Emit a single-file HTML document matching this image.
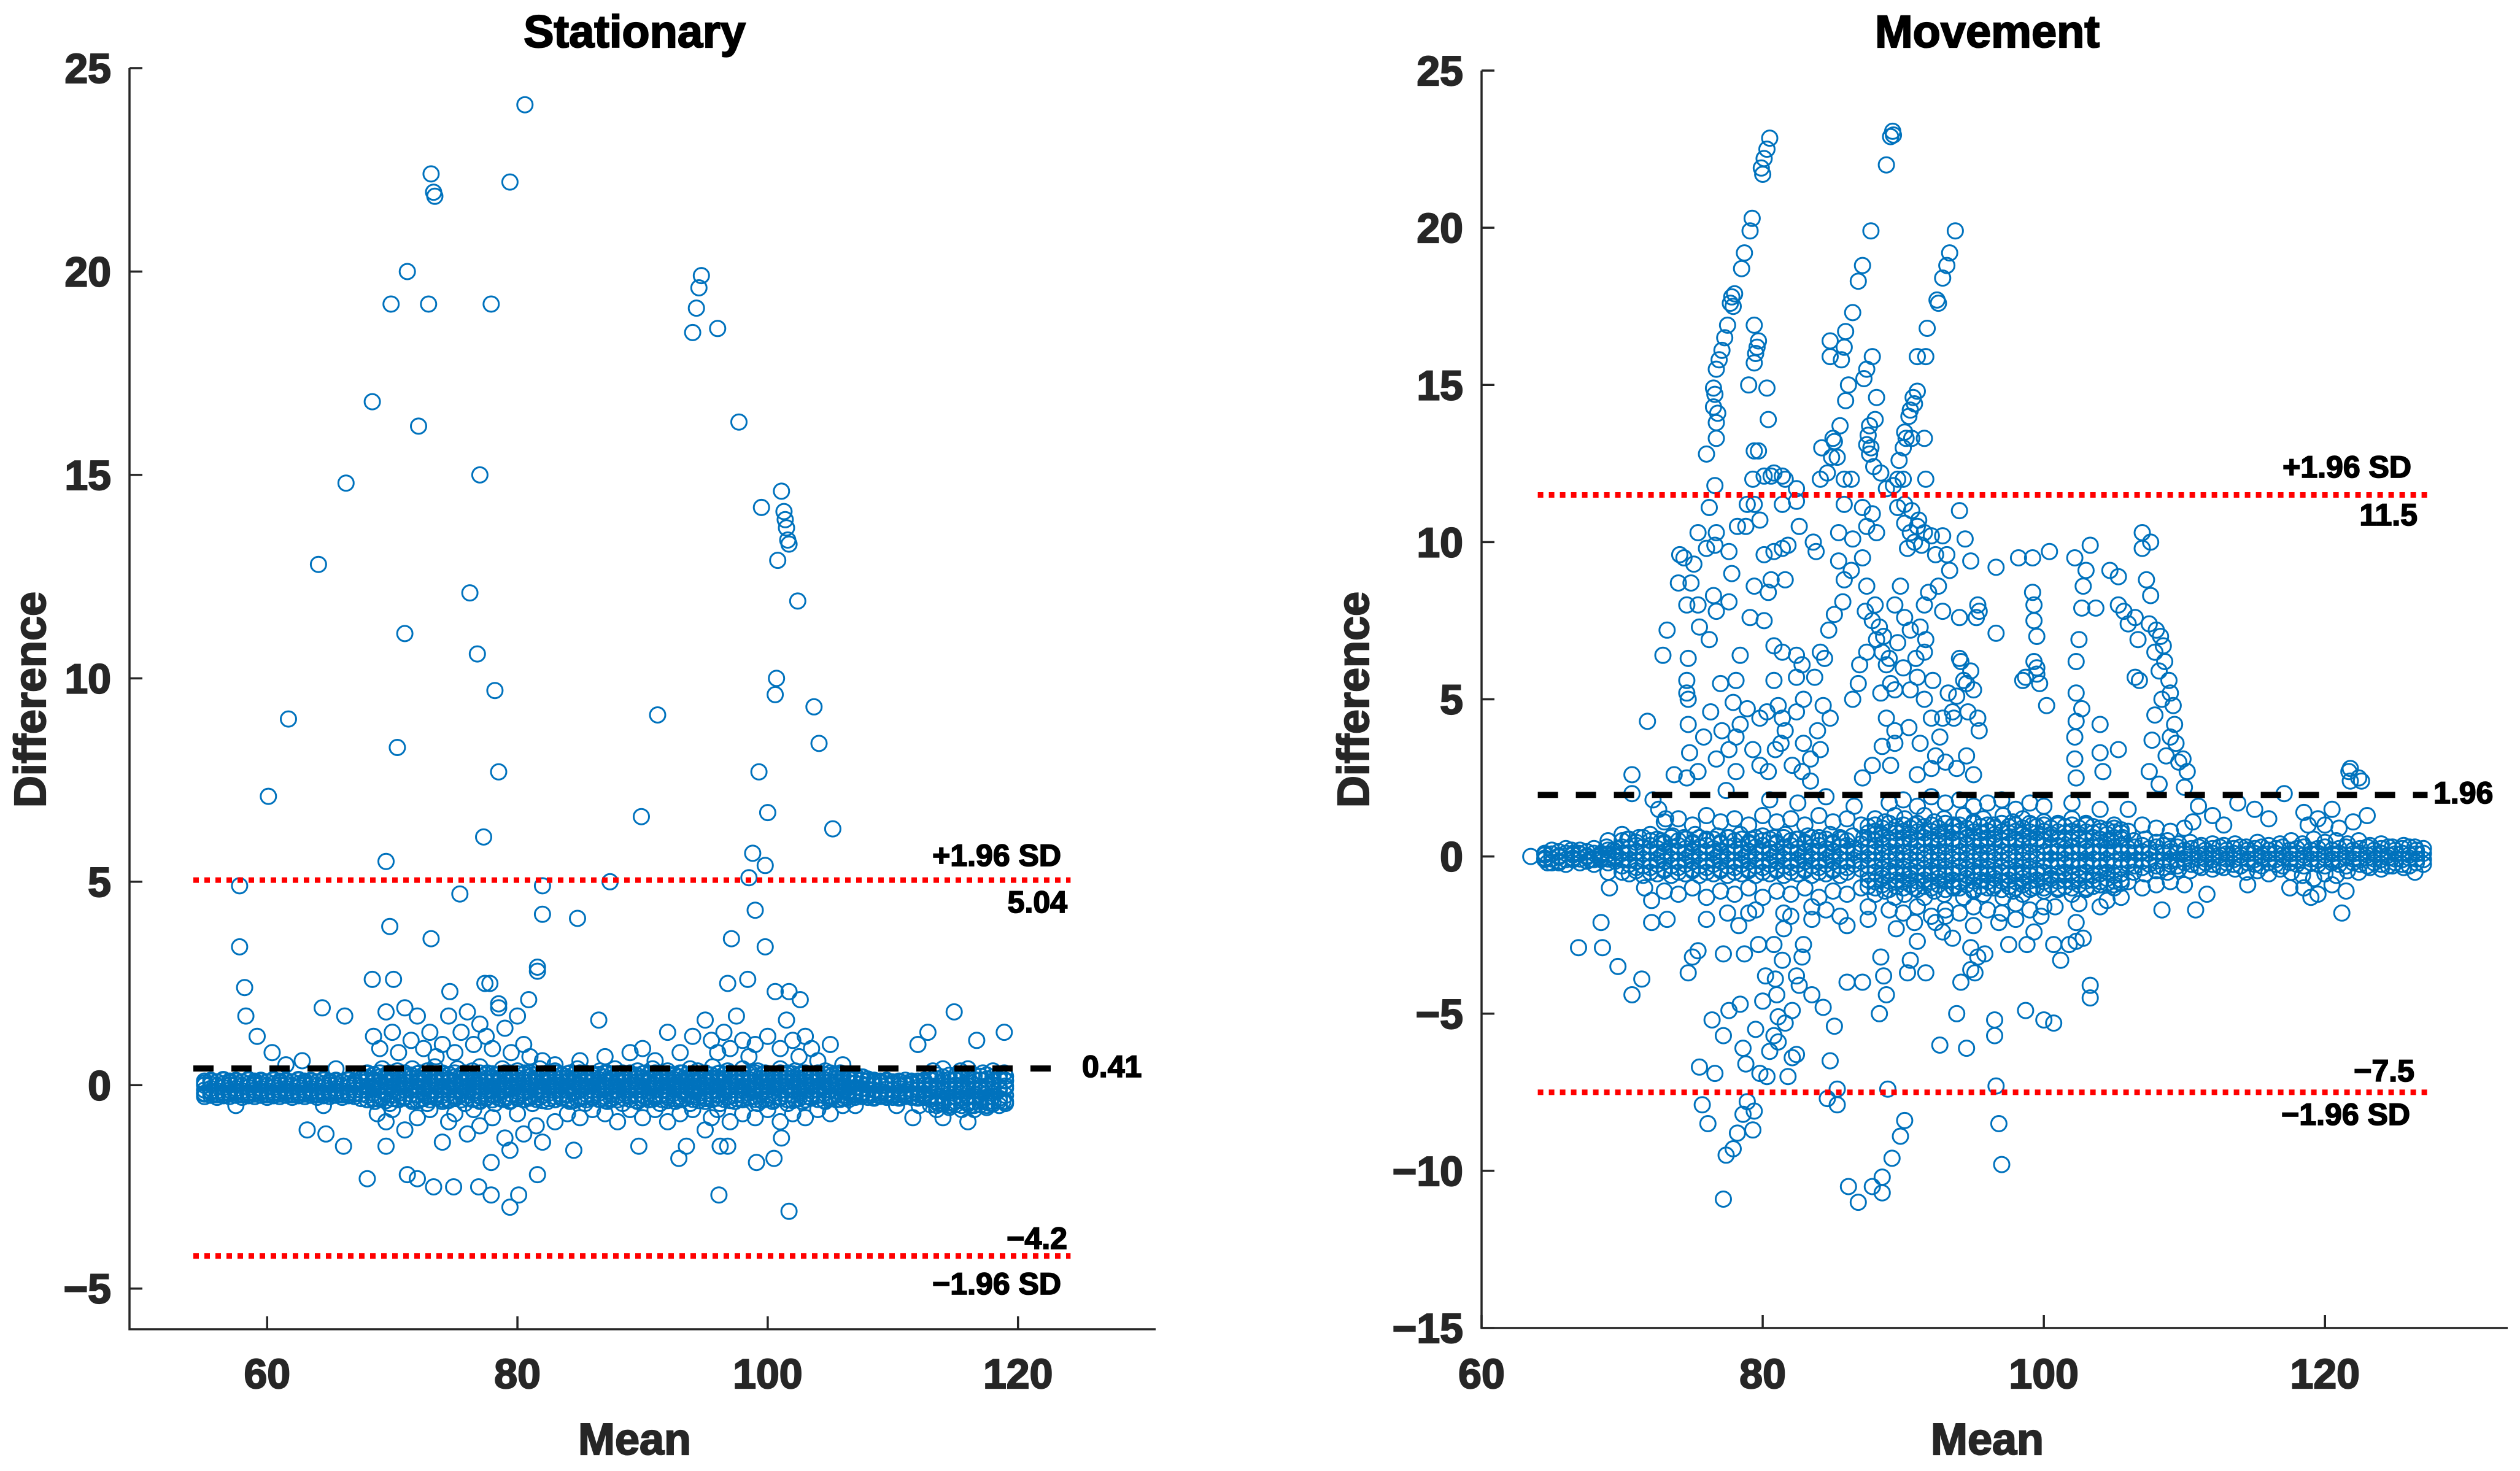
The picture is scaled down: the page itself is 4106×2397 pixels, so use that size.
<!DOCTYPE html>
<html>
<head>
<meta charset="utf-8">
<style>
html,body{margin:0;padding:0;background:#fff;}
svg{display:block;}
text{font-family:"Liberation Sans",Arial,sans-serif;font-weight:bold;}
</style>
</head>
<body>
<svg id="fig" width="4106" height="2397" viewBox="0 0 4106 2397" xmlns="http://www.w3.org/2000/svg">
<rect x="0" y="0" width="4106" height="2397" fill="#fff"/>
<g id="left"></g>
<g id="right"></g>
</svg>
<script>
// ---------- Stationary data ----------
const statLimits = [5.04, 0.41, -4.2];
const statXTicks = [60, 80, 100, 120];
const statYTicks = [-5, 0, 5, 10, 15, 20, 25];
const statDenseX = [55,55.5,56,56.5,57,57.5,58,58.5,59,59.5,60,60.5,61,61.5,62,62.5,63,63.5,64,64.5,
65,65.5,66,66.5,67,67.5,68,68.5,69,69.5,70,70.5,71,71.5,72,72.5,73,73.5,74,74.5,
75,75.5,76,76.5,77,77.5,78,78.5,79,79.5,80,80.5,81,81.5,82,82.5,83,83.5,84,84.5,
85,85.5,86,86.5,87,87.5,88,88.5,89,89.5,90,90.5,91,91.5,92,92.5,93,93.5,94,94.5,
95,95.5,96,96.5,97,97.5,98,98.5,99,99.5,100,100.5,101,101.5,102,102.5,103,103.5,104,104.5,
105,105.5,106,106.5,107,107.5,108,108.5,109,109.5,110,110.5,111,111.5,112,112.5,113,113.5,114,114.5,
115,115.5,116,116.5,117,117.5,118,118.5,119];
const statDenseA = [0.05,0.1,0.08,0.12,0.06,0.1,0.08,0.12,0.05,0.1,0.08,0.12,0.06,0.1,0.08,0.12,0.05,0.1,0.08,0.12,
0.06,0.1,0.08,0.12,0.05,0.15,0.18,0.14,0.2,0.16,0.18,0.14,0.2,0.16,0.18,0.14,0.2,0.16,0.18,0.14,
0.2,0.16,0.18,0.14,0.2,0.16,0.18,0.14,0.2,0.16,0.18,0.14,0.2,0.16,0.18,0.14,0.2,0.16,0.18,0.14,
0.2,0.16,0.18,0.14,0.2,0.16,0.18,0.14,0.2,0.16,0.18,0.14,0.2,0.16,0.18,0.14,0.2,0.16,0.18,0.14,
0.2,0.16,0.18,0.14,0.2,0.16,0.18,0.14,0.2,0.16,0.18,0.14,0.2,0.16,0.18,0.14,0.2,0.16,0.18,0.14,
0.2,0.16,0.18,0.14,0.15,0.12,0.1,0.08,0.05,0.1,0.02,0.08,0.05,0.1,0.05,0.1,0.12,0.15,0.1,0.14,
0.12,0.15,0.1,0.14,0.12,0.15,0.1,0.14,0.12];
const statDenseB = [-0.12,-0.08,-0.14,-0.06,-0.12,-0.08,-0.14,-0.06,-0.12,-0.08,-0.14,-0.06,-0.12,-0.08,-0.14,-0.06,-0.12,-0.08,-0.14,-0.06,
-0.12,-0.08,-0.14,-0.06,-0.12,-0.05,-0.02,-0.06,0,-0.04,-0.02,-0.06,0,-0.04,-0.02,-0.06,0,-0.04,-0.02,-0.06,
0,-0.04,-0.02,-0.06,0,-0.04,-0.02,-0.06,0,-0.04,-0.02,-0.06,0,-0.04,-0.02,-0.06,0,-0.04,-0.02,-0.06,
0,-0.04,-0.02,-0.06,0,-0.04,-0.02,-0.06,0,-0.04,-0.02,-0.06,0,-0.04,-0.02,-0.06,0,-0.04,-0.02,-0.06,
0,-0.04,-0.02,-0.06,0,-0.04,-0.02,-0.06,0,-0.04,-0.02,-0.06,0,-0.04,-0.02,-0.06,0,-0.04,-0.02,-0.06,
0,-0.04,-0.02,-0.06,-0.05,-0.08,-0.1,-0.12,-0.15,-0.1,-0.12,-0.08,-0.15,-0.1,-0.12,-0.1,-0.08,-0.1,-0.12,-0.08,
-0.1,-0.12,-0.08,-0.1,-0.12,-0.08,-0.1,-0.12,-0.08];
const statDenseC = [-0.2,-0.15,-0.22,-0.18,-0.2,-0.15,-0.22,-0.18,-0.2,-0.15,-0.22,-0.18,-0.2,-0.15,-0.22,-0.18,-0.2,-0.15,-0.22,-0.18,
-0.2,-0.15,-0.22,-0.18,-0.2,-0.22,-0.25,-0.2,-0.28,-0.22,-0.25,-0.2,-0.28,-0.22,-0.25,-0.2,-0.28,-0.22,-0.25,-0.2,
-0.28,-0.22,-0.25,-0.2,-0.28,-0.22,-0.25,-0.2,-0.28,-0.22,-0.25,-0.2,-0.28,-0.22,-0.25,-0.2,-0.28,-0.22,-0.25,-0.2,
-0.28,-0.22,-0.25,-0.2,-0.28,-0.22,-0.25,-0.2,-0.28,-0.22,-0.25,-0.2,-0.28,-0.22,-0.25,-0.2,-0.28,-0.22,-0.25,-0.2,
-0.28,-0.22,-0.25,-0.2,-0.28,-0.22,-0.25,-0.2,-0.28,-0.22,-0.25,-0.2,-0.28,-0.22,-0.25,-0.2,-0.28,-0.22,-0.25,-0.2,
-0.28,-0.22,-0.25,-0.2,-0.22,-0.2,-0.25,-0.3,-0.2,-0.28,-0.25,-0.3,-0.22,-0.28,-0.3,-0.25,-0.3,-0.28,-0.32,-0.3,
-0.28,-0.32,-0.3,-0.28,-0.32,-0.3,-0.28,-0.32,-0.25];
const statDenseD = [0,0.02,-0.02,0.03,0,0.02,-0.02,0.03,0,0.02,-0.02,0.03,0,0.02,-0.02,0.03,0,0.02,-0.02,0.03,
0,0.02,-0.02,0.03,0,0.08,0.1,0.06,0.09,0.07,0.1,0.06,0.09,0.07,0.1,0.06,0.09,0.07,0.1,0.06,
0.09,0.07,0.1,0.06,0.09,0.07,0.1,0.06,0.09,0.07,0.1,0.06,0.09,0.07,0.1,0.06,0.09,0.07,0.1,0.06,
0.09,0.07,0.1,0.06,0.09,0.07,0.1,0.06,0.09,0.07,0.1,0.06,0.09,0.07,0.1,0.06,0.09,0.07,0.1,0.06,
0.09,0.07,0.1,0.06,0.09,0.07,0.1,0.06,0.09,0.07,0.1,0.06,0.09,0.07,0.1,0.06,0.09,0.07,0.1,0.06,
0.09,0.07,0.1,0.06,0.05,0.03,0,0.02,-0.02,0,0.03,-0.02,0,0.02,-0.05,0,-0.02,-0.05,0,-0.03,
0,-0.05,-0.02,0,-0.05,-0.02,0,-0.05,-0.02];
const statDenseE = [-0.22,-0.18,-0.24,-0.2,-0.22,-0.18,-0.24,-0.2,-0.22,-0.18,-0.24,-0.2,-0.22,-0.18,-0.24,-0.2,-0.22,-0.18,-0.24,-0.2,
-0.22,-0.18,-0.24,-0.2,-0.22,-0.12,-0.14,-0.1,-0.13,-0.15,-0.11,-0.14,-0.12,-0.13,-0.1,-0.15,-0.12,-0.14,-0.11,-0.13,
-0.12,-0.14,-0.1,-0.13,-0.15,-0.11,-0.14,-0.12,-0.13,-0.1,-0.15,-0.12,-0.14,-0.11,-0.13,-0.12,-0.14,-0.1,-0.13,-0.15,
-0.11,-0.14,-0.12,-0.13,-0.1,-0.15,-0.12,-0.14,-0.11,-0.13,-0.12,-0.14,-0.1,-0.13,-0.15,-0.11,-0.14,-0.12,-0.13,-0.1,
-0.15,-0.12,-0.14,-0.11,-0.13,-0.12,-0.14,-0.1,-0.13,-0.15,-0.11,-0.14,-0.12,-0.13,-0.1,-0.15,-0.12,-0.14,-0.11,-0.13,
-0.12,-0.14,-0.1,-0.13,-0.15,-0.18,-0.2,-0.22,-0.25,-0.2,-0.22,-0.18,-0.25,-0.2,-0.22,-0.2,-0.35,-0.4,-0.38,-0.42,
-0.4,-0.38,-0.42,-0.4,-0.38,-0.42,-0.4,-0.38,-0.4];
const statDenseF = [0.1,0.12,0.08,0.14,0.1,0.12,0.08,0.14,0.1,0.12,0.08,0.14,0.1,0.12,0.08,0.14,0.1,0.12,0.08,0.14,
0.1,0.12,0.08,0.14,0.1,0.24,0.28,0.26,0.3,0.25,0.28,0.26,0.3,0.25,0.28,0.26,0.3,0.25,0.28,0.26,
0.3,0.25,0.28,0.26,0.3,0.25,0.28,0.26,0.3,0.25,0.28,0.26,0.3,0.25,0.28,0.26,0.3,0.25,0.28,0.26,
0.3,0.25,0.28,0.26,0.3,0.25,0.28,0.26,0.3,0.25,0.28,0.26,0.3,0.25,0.28,0.26,0.3,0.25,0.28,0.26,
0.3,0.25,0.28,0.26,0.3,0.25,0.28,0.26,0.3,0.25,0.28,0.26,0.3,0.25,0.28,0.26,0.3,0.25,0.28,0.26,
0.3,0.25,0.28,0.26,0.24,0.2,0.15,0.12,0.1,0.12,0.08,0.1,0.12,0.08,0.1,0.12,0.22,0.25,0.2,0.24,
0.22,0.25,0.2,0.24,0.22,0.25,0.2,0.24,0.22];
const statDenseG = [-0.28,-0.25,-0.3,-0.26,-0.28,-0.25,-0.3,-0.26,-0.28,-0.25,-0.3,-0.26,-0.28,-0.25,-0.3,-0.26,-0.28,-0.25,-0.3,-0.26,
-0.28,-0.25,-0.3,-0.26,-0.28,-0.33,-0.36,-0.32,-0.35,-0.38,-0.33,-0.36,-0.32,-0.35,-0.38,-0.33,-0.36,-0.32,-0.35,-0.38,
-0.33,-0.36,-0.32,-0.35,-0.38,-0.33,-0.36,-0.32,-0.35,-0.38,-0.33,-0.36,-0.32,-0.35,-0.38,-0.33,-0.36,-0.32,-0.35,-0.38,
-0.33,-0.36,-0.32,-0.35,-0.38,-0.33,-0.36,-0.32,-0.35,-0.38,-0.33,-0.36,-0.32,-0.35,-0.38,-0.33,-0.36,-0.32,-0.35,-0.38,
-0.33,-0.36,-0.32,-0.35,-0.38,-0.33,-0.36,-0.32,-0.35,-0.38,-0.33,-0.36,-0.32,-0.35,-0.38,-0.33,-0.36,-0.32,-0.35,-0.38,
-0.33,-0.36,-0.32,-0.35,-0.3,-0.28,-0.3,-0.32,-0.28,-0.3,-0.3,-0.32,-0.28,-0.3,-0.32,-0.3,-0.48,-0.5,-0.46,-0.5,
-0.48,-0.5,-0.46,-0.5,-0.48,-0.5,-0.46,-0.5,-0.45];
const statOutliers = [
[80.6,24.1],[73.1,22.4],[73.3,21.95],[73.4,21.85],[79.4,22.2],[71.2,20.0],[69.9,19.2],[72.9,19.2],[77.9,19.2],
[94.7,19.9],[94.5,19.6],[94.3,19.1],[94.0,18.5],[96.0,18.6],[68.4,16.8],[72.1,16.2],[97.7,16.3],[66.3,14.8],[77.0,15.0],
[64.1,12.8],[101.1,14.6],[99.5,14.2],[101.3,14.1],[101.4,13.9],[101.5,13.7],[101.6,13.4],[101.7,13.3],[100.8,12.9],[102.4,11.9],
[76.2,12.1],[71.0,11.1],[76.8,10.6],[78.2,9.7],[100.7,10.0],[100.6,9.6],[61.7,9.0],[91.2,9.1],[103.7,9.3],[70.4,8.3],[104.1,8.4],
[78.5,7.7],[99.3,7.7],[60.1,7.1],[100.0,6.7],[89.9,6.6],[105.2,6.3],[77.3,6.1],[69.5,5.5],[98.8,5.7],[99.8,5.4],[57.8,4.9],
[82.0,4.9],[87.4,5.0],[98.5,5.1],[75.4,4.7],[82.0,4.2],[84.8,4.1],[99.0,4.3],[57.8,3.4],[69.8,3.9],[73.1,3.6],[97.1,3.6],[99.8,3.4],
[81.6,2.9],[81.6,2.8],[58.2,2.4],[58.3,1.7],[59.2,1.2],[60.4,0.8],[64.4,1.9],[66.2,1.7],[68.4,2.6],[70.1,2.6],[74.6,2.3],[77.4,2.5],
[77.8,2.5],[78.5,2.0],[80.9,2.1],[86.5,1.6],[96.8,2.5],[98.4,2.6],[100.6,2.3],[101.7,2.3],[102.6,2.1],[112.0,1.0],[112.8,1.3],
[114.9,1.8],[116.7,1.1],[118.9,1.3],
[63.2,-1.1],[64.7,-1.2],[66.1,-1.5],[68.0,-2.3],[69.5,-1.5],[71.2,-2.2],[72.0,-2.3],[73.3,-2.5],[74.9,-2.5],[76.9,-2.5],[77.9,-2.7],
[79.4,-3.0],[80.1,-2.7],[77.9,-1.9],[79.4,-1.6],[81.6,-2.2],[84.5,-1.6],[89.7,-1.5],[92.9,-1.8],[93.5,-1.5],[96.2,-1.5],[96.8,-1.5],
[96.1,-2.7],[99.1,-1.9],[100.5,-1.8],[101.1,-1.3],[101.7,-3.1],[111.6,-0.8],[110.3,-0.5]
];
const statScatter = [
[68.5,1.2],[69,0.9],[69.5,1.8],[70,1.3],[70.5,0.8],[71,1.9],[71.5,1.1],[72,1.7],[72.5,0.9],[73,1.3],[73.5,0.7],[74,1.0],[74.5,1.7],
[75,0.8],[75.5,1.3],[76,1.8],[76.5,1.0],[77,1.5],[77.5,1.2],[78,0.9],[78.5,1.9],[79,1.4],[79.5,0.8],[80,1.7],[80.5,1.0],[81,0.7],
[82,0.6],[83,0.5],[85,0.6],[87,0.7],[89,0.8],[90,0.9],[91,0.6],[92,1.3],[93,0.8],[94,1.2],[95,1.6],[95.5,1.1],[96,0.8],[96.5,1.3],
[97,0.9],[97.5,1.7],[98,1.1],[98.5,0.7],[99,1.0],[100,1.2],[101,0.9],[101.5,1.6],[102,1.1],[102.5,0.7],[103,1.2],[103.5,0.9],[104,0.6],
[105,1.0],[106,0.5],[61.5,0.5],[62.8,0.6],[65.5,0.4],
[68.8,-0.7],[69.5,-0.9],[70,-0.6],[71,-1.1],[72,-0.8],[73,-0.6],[74,-1.4],[74.5,-0.9],[75,-0.7],[76,-1.2],[76.5,-0.6],[77,-1.0],
[78,-0.8],[79,-1.3],[80,-0.7],[80.5,-1.2],[81.5,-1.0],[82,-1.4],[83,-0.9],[84,-0.7],[85,-0.8],[86,-0.6],[87,-0.7],[88,-0.9],[89,-0.6],
[90,-0.8],[91,-0.6],[92,-0.9],[93,-0.7],[94,-0.6],[95,-1.1],[95.5,-0.8],[96,-0.6],[97,-0.9],[98,-0.7],[99,-0.8],[100,-0.6],[101,-0.9],
[102,-0.7],[103,-0.8],[104,-0.6],[105,-0.7],[106,-0.5],[107,-0.5],[116,-0.9],[114,-0.8],[57.5,-0.5],[64.5,-0.5]
];
const statBand = [
[68.0,0.3],[68.6,0.25],[69.2,0.4],[69.8,0.3],[70.4,0.35],[71.0,0.25],[71.6,0.4],[72.2,0.3],[72.8,0.35],[73.4,0.45],[74.0,0.3],
[74.6,0.25],[75.2,0.4],[75.8,0.3],[76.4,0.35],[77.0,0.45],[77.6,0.3],[78.2,0.25],[78.8,0.4],[79.4,0.3],[80.0,0.35],[80.6,0.3],
[81.2,0.25],[81.8,0.4],[82.4,0.3],[83.0,0.35],[83.6,0.25],[84.2,0.3],[84.8,0.4],[85.4,0.3],[86.0,0.25],[86.6,0.35],[87.2,0.3],
[87.8,0.4],[88.4,0.3],[89.0,0.25],[89.6,0.35],[90.2,0.3],[90.8,0.4],[91.4,0.3],[92.0,0.35],[92.6,0.25],[93.2,0.3],[93.8,0.4],
[94.4,0.35],[95.0,0.3],[95.6,0.45],[96.2,0.3],[96.8,0.35],[97.4,0.25],[98.0,0.4],[98.6,0.3],[99.2,0.35],[99.8,0.3],[100.4,0.25],
[101.0,0.4],[101.6,0.3],[102.2,0.35],[102.8,0.3],[103.4,0.25],[104.0,0.3],[104.6,0.35],[105.2,0.25],[105.8,0.3],[106.4,0.2],
[107.0,0.25],[107.6,0.2],
[68.0,-0.35],[68.6,-0.4],[69.2,-0.3],[69.8,-0.45],[70.4,-0.35],[71.0,-0.3],[71.6,-0.4],[72.2,-0.35],[72.8,-0.45],[73.4,-0.3],
[74.0,-0.4],[74.6,-0.35],[75.2,-0.3],[75.8,-0.45],[76.4,-0.35],[77.0,-0.4],[77.6,-0.3],[78.2,-0.45],[78.8,-0.35],[79.4,-0.4],
[80.0,-0.3],[80.6,-0.35],[81.2,-0.45],[81.8,-0.3],[82.4,-0.4],[83.0,-0.35],[83.6,-0.3],[84.2,-0.4],[84.8,-0.35],[85.4,-0.45],
[86.0,-0.3],[86.6,-0.35],[87.2,-0.4],[87.8,-0.3],[88.4,-0.45],[89.0,-0.35],[89.6,-0.4],[90.2,-0.3],[90.8,-0.35],[91.4,-0.45],
[92.0,-0.3],[92.6,-0.4],[93.2,-0.35],[93.8,-0.45],[94.4,-0.3],[95.0,-0.4],[95.6,-0.35],[96.2,-0.45],[96.8,-0.3],[97.4,-0.4],
[98.0,-0.35],[98.6,-0.3],[99.2,-0.45],[99.8,-0.35],[100.4,-0.4],[101.0,-0.3],[101.6,-0.45],[102.2,-0.35],[102.8,-0.4],[103.4,-0.3],
[104.0,-0.35],[104.6,-0.4],[105.2,-0.3],[105.8,-0.35],[106.4,-0.3],[107.0,-0.25],[107.6,-0.2],
[113.5,-0.6],[114.5,-0.55],[115.5,-0.6],[116.5,-0.6],[117.5,-0.55],[118.8,-0.4],[119.0,0.1],[118.9,0.3],[112.1,-0.5],
[113.2,0.35],[114.0,0.4],[115.4,0.35],[116.0,0.4],[117.2,0.3],[118.0,0.35],[113.6,-0.45],[114.8,-0.45],[116.2,-0.5],[117.8,-0.45]
];

// ---------- Movement data ----------
const movLimits = [11.5, 1.96, -7.5];
const movXTicks = [60, 80, 100, 120];
const movYTicks = [-15, -10, -5, 0, 5, 10, 15, 20, 25];
const movDenseX = [64.5,65,65.5,66,66.5,67,67.5,68,68.5,69,69.5,70,70.5,71,71.5,72,72.5,73,73.5,74,
74.5,75,75.5,76,76.5,77,77.5,78,78.5,79,79.5,80,80.5,81,81.5,82,82.5,83,83.5,84,
84.5,85,85.5,86,86.5,87,87.5,88,88.5,89,89.5,90,90.5,91,91.5,92,92.5,93,93.5,94,
94.5,95,95.5,96,96.5,97,97.5,98,98.5,99,99.5,100,100.5,101,101.5,102,102.5,103,103.5,104,
104.5,105,105.5,106,106.5,107,107.5,108,108.5,109,109.5,110,110.5,111,111.5,112,112.5,113,113.5,114,
114.5,115,115.5,116,116.5,117,117.5,118,118.5,119,119.5,120,120.5,121,121.5,122,122.5,123,123.5,124,
124.5,125,125.5,126,126.5,127];
const movDenseA = [0.1,0.2,0.15,0.25,0.1,0.2,0.15,0.25,0.1,0.2,0.15,0.3,0.25,0.35,0.3,0.35,0.25,0.4,0.3,0.35,
0.25,0.4,0.3,0.35,0.25,0.4,0.3,0.35,0.25,0.4,0.3,0.35,0.25,0.4,0.3,0.35,0.25,0.4,0.3,0.35,
0.25,0.4,0.3,0.35,0.25,0.4,0.3,0.35,0.4,0.45,0.35,0.4,0.45,0.35,0.4,0.45,0.35,0.4,0.45,0.35,
0.4,0.45,0.35,0.4,0.45,0.35,0.4,0.45,0.35,0.4,0.45,0.35,0.3,0.35,0.25,0.3,0.35,0.25,0.3,0.35,
0.25,0.3,0.35,0.25,0.3,0.35,0.25,0.3,0.35,0.25,0.3,0.2,0.25,0.3,0.2,0.25,0.3,0.2,0.25,0.3,
0.2,0.25,0.3,0.2,0.25,0.3,0.2,0.25,0.3,0.2,0.25,0.3,0.2,0.25,0.3,0.2,0.25,0.3,0.2,0.25,
0.3,0.2,0.25,0.3,0.2,0.25];
const movDenseB = [-0.1,-0.2,-0.15,-0.25,-0.1,-0.2,-0.15,-0.25,-0.1,-0.2,-0.15,-0.3,-0.25,-0.35,-0.3,-0.35,-0.25,-0.4,-0.3,-0.35,
-0.25,-0.4,-0.3,-0.35,-0.25,-0.4,-0.3,-0.35,-0.25,-0.4,-0.3,-0.35,-0.25,-0.4,-0.3,-0.35,-0.25,-0.4,-0.3,-0.35,
-0.25,-0.4,-0.3,-0.35,-0.25,-0.4,-0.3,-0.35,-0.4,-0.45,-0.35,-0.4,-0.45,-0.35,-0.4,-0.45,-0.35,-0.4,-0.45,-0.35,
-0.4,-0.45,-0.35,-0.4,-0.45,-0.35,-0.4,-0.45,-0.35,-0.4,-0.45,-0.35,-0.3,-0.35,-0.25,-0.3,-0.35,-0.25,-0.3,-0.35,
-0.25,-0.3,-0.35,-0.25,-0.3,-0.35,-0.25,-0.3,-0.35,-0.25,-0.3,-0.2,-0.25,-0.3,-0.2,-0.25,-0.3,-0.2,-0.25,-0.3,
-0.2,-0.25,-0.3,-0.2,-0.25,-0.3,-0.2,-0.25,-0.3,-0.2,-0.25,-0.3,-0.2,-0.25,-0.3,-0.2,-0.25,-0.3,-0.2,-0.25,
-0.3,-0.2,-0.25,-0.3,-0.2,-0.25];
const movDenseC = [0.05,0.08,0.02,0.1,0.05,0.08,0.02,0.1,0.05,0.08,0.02,0.1,0.12,0.15,0.1,0.14,0.12,0.15,0.1,0.14,
0.12,0.15,0.1,0.14,0.12,0.15,0.1,0.14,0.12,0.15,0.1,0.14,0.12,0.15,0.1,0.14,0.12,0.15,0.1,0.14,
0.12,0.15,0.1,0.14,0.12,0.15,0.1,0.14,0.12,0.15,0.1,0.14,0.12,0.15,0.1,0.14,0.12,0.15,0.1,0.14,
0.12,0.15,0.1,0.14,0.12,0.15,0.1,0.14,0.12,0.15,0.1,0.14,0.12,0.15,0.1,0.14,0.12,0.15,0.1,0.14,
0.12,0.15,0.1,0.14,0.12,0.15,0.1,0.14,0.12,0.15,0.1,0.08,0.1,0.05,0.08,0.1,0.05,0.08,0.1,0.05,
0.08,0.1,0.05,0.08,0.1,0.05,0.08,0.1,0.05,0.08,0.1,0.05,0.08,0.1,0.05,0.08,0.1,0.05,0.08,0.1,
0.05,0.08,0.1,0.05,0.08,0.1];
const movDenseD = [-0.05,-0.08,-0.02,-0.1,-0.05,-0.08,-0.02,-0.1,-0.05,-0.08,-0.02,-0.1,-0.12,-0.15,-0.1,-0.14,-0.12,-0.15,-0.1,-0.14,
-0.12,-0.15,-0.1,-0.14,-0.12,-0.15,-0.1,-0.14,-0.12,-0.15,-0.1,-0.14,-0.12,-0.15,-0.1,-0.14,-0.12,-0.15,-0.1,-0.14,
-0.12,-0.15,-0.1,-0.14,-0.12,-0.15,-0.1,-0.14,-0.12,-0.15,-0.1,-0.14,-0.12,-0.15,-0.1,-0.14,-0.12,-0.15,-0.1,-0.14,
-0.12,-0.15,-0.1,-0.14,-0.12,-0.15,-0.1,-0.14,-0.12,-0.15,-0.1,-0.14,-0.12,-0.15,-0.1,-0.14,-0.12,-0.15,-0.1,-0.14,
-0.12,-0.15,-0.1,-0.14,-0.12,-0.15,-0.1,-0.14,-0.12,-0.15,-0.1,-0.08,-0.1,-0.05,-0.08,-0.1,-0.05,-0.08,-0.1,-0.05,
-0.08,-0.1,-0.05,-0.08,-0.1,-0.05,-0.08,-0.1,-0.05,-0.08,-0.1,-0.05,-0.08,-0.1,-0.05,-0.08,-0.1,-0.05,-0.08,-0.1,
-0.05,-0.08,-0.1,-0.05,-0.08,-0.1];
const movMidX = [87.5,88,88.5,89,89.5,90,90.5,91,91.5,92,92.5,93,93.5,94,94.5,95,95.5,96,96.5,97,
97.5,98,98.5,99,99.5,100,100.5,101,101.5,102,102.5,103,103.5,104,104.5,105,105.5];
const movMidA = [0.55,0.5,0.6,0.55,0.5,0.6,0.55,0.5,0.6,0.55,0.5,0.6,0.55,0.5,0.6,0.55,0.5,0.6,0.55,0.5,
0.6,0.55,0.5,0.6,0.55,0.5,0.6,0.55,0.5,0.6,0.55,0.5,0.6,0.55,0.5,0.6,0.55];
const movMidB = [0.75,0.8,0.7,0.78,0.75,0.8,0.7,0.78,0.75,0.8,0.7,0.78,0.75,0.8,0.7,0.78,0.75,0.8,0.7,0.78,
0.75,0.8,0.7,0.78,0.75,0.8,0.7,0.78,0.75,0.8,0.7,0.78,0.75,0.8,0.7,0.78,0.75];
const movMidC = [0.95,1.0,0.9,1.05,0.95,1.0,0.9,1.05,0.95,1.0,0.9,1.05,0.95,1.0,0.9,1.05,0.95,1.0,0.9,1.05,
0.95,1.0,0.9,1.05,0.95,1.0,0.9,1.05,0.95,1.0,0.9,1.05,0.95,0.9,0.85,0.9,0.85];
const movMidD = [-0.55,-0.5,-0.6,-0.55,-0.5,-0.6,-0.55,-0.5,-0.6,-0.55,-0.5,-0.6,-0.55,-0.5,-0.6,-0.55,-0.5,-0.6,-0.55,-0.5,
-0.6,-0.55,-0.5,-0.6,-0.55,-0.5,-0.6,-0.55,-0.5,-0.6,-0.55,-0.5,-0.6,-0.55,-0.5,-0.6,-0.55];
const movMidE = [-0.75,-0.8,-0.7,-0.78,-0.75,-0.8,-0.7,-0.78,-0.75,-0.8,-0.7,-0.78,-0.75,-0.8,-0.7,-0.78,-0.75,-0.8,-0.7,-0.78,
-0.75,-0.8,-0.7,-0.78,-0.75,-0.8,-0.7,-0.78,-0.75,-0.8,-0.7,-0.78,-0.75,-0.8,-0.7,-0.78,-0.75];
const movMidF = [-0.95,-1.0,-0.9,-1.05,-0.95,-1.0,-0.9,-1.05,-0.95,-1.0,-0.9,-1.05,-0.95,-1.0,-0.9,-1.05,-0.95,-1.0,-0.9,-1.05,
-0.95,-1.0,-0.9,-1.05,-0.95,-1.0,-0.9,-1.05,-0.95,-1.0,-0.9,-1.05,-0.95,-0.9,-0.85,-0.9,-0.85];
const movLeftX = [70,70.5,71,71.5,72,72.5,73,73.5,74,74.5,75,75.5,76,76.5,77,77.5,78,78.5,79,79.5,
80,80.5,81,81.5,82,82.5,83,83.5,84,84.5,85,85.5,86];
const movLeftA = [0.5,0.55,0.45,0.6,0.5,0.55,0.45,0.6,0.5,0.55,0.45,0.6,0.5,0.55,0.45,0.6,0.5,0.55,0.45,0.6,
0.5,0.55,0.45,0.6,0.5,0.55,0.45,0.6,0.5,0.55,0.45,0.6,0.5];
const movLeftB = [-0.5,-0.55,-0.45,-0.6,-0.5,-0.55,-0.45,-0.6,-0.5,-0.55,-0.45,-0.6,-0.5,-0.55,-0.45,-0.6,-0.5,-0.55,-0.45,-0.6,
-0.5,-0.55,-0.45,-0.6,-0.5,-0.55,-0.45,-0.6,-0.5,-0.55,-0.45,-0.6,-0.5];
const movUpper = [
[79.25,20.3],[79.1,19.9],[78.7,19.2],[78.5,18.7],[78.0,17.9],[77.7,17.6],[77.5,16.9],[77.1,16.1],[76.7,15.5],[76.5,14.9],[76.5,14.3],
[76.7,13.8],[76.7,13.3],[76.0,12.8],[76.6,11.8],[76.2,11.1],[77.8,17.8],[77.9,17.5],[77.3,16.5],[76.9,15.8],[76.6,14.7],[76.8,14.1],
[80.5,22.85],[80.3,22.5],[80.1,22.2],[79.9,21.9],[80.0,21.7],[89.25,23.07],[89.1,22.9],[89.3,22.95],[88.8,22.0],
[93.7,19.9],[93.3,19.2],[93.1,18.8],[92.8,18.4],[92.5,17.6],[92.4,17.7],[91.7,16.8],[91.6,15.9],[91.0,15.9],[91.0,14.8],[90.7,14.6],
[90.5,14.2],[90.4,14.0],[90.1,13.5],[90.0,13.0],[89.7,12.6],[89.6,12.0],[89.3,11.8],[90.8,14.4],[90.2,13.3],
[87.7,19.9],[87.1,18.8],[86.8,18.3],[86.4,17.3],[85.9,16.7],[85.8,16.2],[84.8,16.4],[84.8,15.9],[85.6,15.8],[87.8,15.9],[87.4,15.5],
[87.2,15.2],[86.1,15.0],[85.9,14.5],[85.5,13.7],[85.1,13.2],[84.9,12.7],[84.2,13.0],[87.6,13.7],[87.5,13.4],[87.4,13.1],[88.0,13.9],
[88.1,14.6],[87.7,13.0],[87.6,12.8],
[79.4,16.9],[79.6,16.2],[79.4,15.7],[79.0,15.0],[80.3,14.9],[80.4,13.9],[79.7,12.9],[79.3,12.0],[80.6,12.1],[81.4,12.1],[82.4,11.7],
[79.5,16.0],[79.7,16.4],
[84.1,12.0],[84.6,12.2],[85.0,13.3],[85.3,12.7],[85.8,12.0],[86.3,12.0],[85.8,11.2],[85.4,10.3],[86.4,10.1],[85.4,9.4],[85.8,8.8],
[85.7,8.1],[86.3,9.1],[85.1,7.7],[84.7,7.2],[84.1,6.5],[84.4,6.3],[83.7,5.7],[84.3,4.8],[84.8,4.4],[83.9,4.0],
[87.1,11.1],[87.4,10.5],[87.8,10.9],[88.1,10.3],[87.1,9.5],[87.4,8.6],[87.3,7.8],[87.8,7.5],[88.1,6.9],[88.5,6.5],[88.8,6.1],[89.1,5.5],
[87.4,6.5],[86.9,6.1],[86.8,5.5],[86.4,5.0],[88.4,5.2],[89.4,5.3],[88.8,4.4],[89.4,4.0],[88.5,3.5],[87.8,2.9],[87.1,2.5],[89.4,3.6],
[89.1,2.9],[89.8,8.6],[89.4,8.0],[90.1,7.6],[90.5,7.2],[91.5,8.0],[91.8,8.4],[90.5,10.3],[91.0,10.5],[91.5,10.3],[90.1,10.6],[89.6,11.1],
[90.1,11.2],[90.6,11.0],[91.1,10.7],[92.0,10.2],[92.8,10.2],[92.3,9.6],[93.1,9.6],[93.3,9.1],[92.5,8.6],[92.8,7.8],[91.6,6.9],
[91.5,6.5],[91.0,5.7],[90.5,5.3],[91.5,5.0],[92.0,4.4],[92.8,4.4],[92.6,3.8],[94.0,7.6],[94.0,6.3],[94.3,5.6],[88.8,11.7],[88.4,12.2],
[87.9,12.4],[91.6,12.0],[90.0,12.0],[90.6,13.3],[91.5,13.3],[94.0,11.0],[94.4,10.1],[94.8,9.4],[90.8,10.0],[91.3,9.9],[90.3,9.8],
[88.3,7.3],[88.0,8.0],[88.6,7.0],[89.0,6.3],[89.6,6.8],[90.0,6.0],[90.9,6.3],[91.2,7.3],[92.1,5.6],[93.2,5.2],[93.6,4.4],[92.3,3.2],
[91.2,3.6],[90.4,4.1],[93.0,3.0],[92.0,2.8],[91.0,2.6],[93.8,2.8],[94.5,3.2],[95.0,2.6],
[96.6,9.2],[98.2,9.5],[99.2,9.5],[100.4,9.7],[99.2,8.4],[99.3,8.0],[99.3,7.5],[99.5,7.0],[99.3,6.2],[99.5,6.0],[99.5,5.8],[99.7,5.5],
[100.2,4.8],[98.7,5.7],[98.5,5.6],[95.3,8.0],[95.4,7.8],[95.2,7.6],[96.6,7.1],[94.1,6.2],[94.8,5.9],[94.5,5.5],[95.0,5.3],[94.6,4.6],
[93.8,5.1],[93.5,4.6],[95.4,4.0],[95.3,4.4],[102.2,9.5],[103.3,9.9],[103.0,9.1],[102.8,8.6],[102.7,7.9],[103.7,7.9],[102.5,6.9],
[102.3,6.2],[102.3,5.2],[102.7,4.7],[102.2,3.8],[102.2,3.1],[102.3,2.5],[104.0,4.2],[104.7,9.1],[105.3,8.9],[105.3,8.0],[105.7,7.8],
[106.0,7.4],[106.5,7.6],[106.7,6.9],[107.0,10.3],[107.0,9.8],[107.3,8.8],[107.6,8.3],[106.8,5.6],[106.5,5.7],[107.5,7.4],[107.9,6.5],
[108.2,5.9],[108.5,6.7],[108.9,5.6],[109.2,4.8],[109.0,3.8],[109.4,3.6],[109.9,3.1],[110.2,2.7],[107.7,3.7],[107.5,2.7],[105.3,3.4],
[104.2,2.7],[102.3,4.3],[104.0,3.3],[107.6,10.0],[108.0,7.2],[108.3,7.0],[108.6,6.2],[109.0,5.2],[109.3,4.2],[108.4,5.0],[107.9,4.5],
[108.7,3.2],[109.6,3.0],[110.0,2.2],[108.2,2.3],
[74.1,9.6],[75.1,9.3],[76.0,9.8],[76.6,9.9],[78.2,10.5],[79.4,11.2],[79.8,10.7],[78.9,11.2],[78.8,10.5],[80.1,9.6],[80.8,9.7],
[79.4,8.6],[80.6,8.8],[80.4,8.4],[81.6,8.8],[81.8,9.9],[82.6,10.5],[83.6,10.0],[83.8,9.7],[82.4,11.3],[81.4,11.2],[79.1,7.6],[80.1,7.5],
[80.8,6.7],[81.4,6.5],[82.4,6.4],[82.8,6.1],[82.4,5.7],[80.8,5.6],[78.4,6.4],[78.1,5.6],[77.9,4.9],[78.9,4.7],[79.8,4.4],[80.3,4.6],
[81.1,4.8],[81.4,4.4],[81.6,4.0],[81.3,3.6],[82.4,4.6],[82.9,5.0],[82.9,3.6],[83.4,3.1],[78.4,4.2],[78.1,3.8],[77.6,3.4],[78.1,2.7],
[77.4,2.1],[76.7,3.1],[79.3,3.4],[79.8,2.9],[80.4,2.7],[80.9,3.4],[82.1,2.9],[82.8,2.7],[83.4,2.4],[84.1,3.4],[81.4,9.8],[80.8,12.2],
[81.6,12.0],[80.1,12.1],[79.4,12.9],
[70.7,2.6],[70.7,2.0],[71.8,4.3],[72.9,6.4],[73.2,7.2],[73.1,1.2],[73.7,2.6],[74.6,2.5],[74.0,8.7],[74.4,9.5],[74.6,8.0],[74.9,8.7],
[75.4,8.0],[74.7,6.3],[74.6,5.6],[74.6,5.2],[74.7,5.0],[74.7,4.2],[74.8,3.3],[75.4,2.7],[75.4,10.3],[76.7,10.3],[76.7,7.8],[77.6,8.1],
[77.8,9.0],[77.6,9.7],[76.5,8.3],[75.5,7.3],[76.2,6.9],[77.0,5.5],[76.3,4.6],[75.8,3.8],[77.1,4.0],[72.2,1.8],[72.6,1.5],
[113.8,1.7],[117.1,2.0],[121.7,2.7],[121.8,2.4],[122.4,2.5],[121.8,2.8],[122.6,2.4],[118.5,1.4],[119.5,1.2],[120.5,1.5],[123.0,1.3],
[115.0,1.5],[112.0,1.3],[111.0,1.6],[110.6,1.1],[112.8,1.0],[116.0,1.2]
];
const movLower = [
[63.5,0],[64.7,-0.2],[65.5,-0.2],[66.4,0.2],[66.9,0.1],[67.7,-0.1],[68.4,0],[68.9,0.3],[69.4,0.2],[70.0,0.7],
[68.5,-2.1],[66.9,-2.9],[68.6,-2.9],[69.7,-3.5],[70.7,-4.4],[71.4,-3.9],[69.1,-1.0],[72.1,-1.4],[72.1,-2.1],[73.2,-2.0],[71.6,-1.0],
[75.4,-3.0],[74.7,-3.7],[75.0,-3.2],[77.2,-3.1],[78.7,-3.1],[76.4,-5.2],[77.2,-5.7],[77.6,-4.9],[78.4,-4.7],[75.5,-6.7],[76.6,-6.9],
[76.1,-8.5],[75.7,-7.9],[77.4,-9.5],[77.9,-9.3],[78.2,-8.8],[78.6,-8.2],[78.9,-7.8],[79.3,-8.7],[79.4,-8.1],[77.2,-10.9],[78.6,-6.1],
[78.8,-6.6],[79.8,-6.9],[80.3,-7.0],[80.8,-5.7],[81.1,-5.1],[81.1,-5.9],[81.6,-5.3],[82.1,-6.4],[81.8,-7.0],[82.4,-6.3],[82.1,-4.9],
[82.4,-3.8],[82.8,-3.2],[82.9,-2.8],[82.6,-4.1],[80.2,-3.8],[80.9,-3.9],[79.7,-2.8],[80.8,-2.8],[81.4,-3.3],[84.3,-4.8],[85.1,-5.4],
[84.8,-6.5],[84.6,-7.7],[85.3,-7.9],[85.3,-7.4],[86.1,-10.5],[86.8,-11.0],[87.8,-10.5],[88.5,-10.2],[88.5,-10.7],[89.2,-9.6],[89.8,-8.9],
[90.1,-8.4],[88.9,-7.4],[88.3,-5.0],[88.8,-4.4],[88.4,-3.2],[87.1,-4.0],[88.6,-3.8],[93.8,-5.0],[94.5,-6.1],[92.6,-6.0],[94.1,-4.0],
[94.8,-3.6],[95.1,-3.7],[96.5,-5.2],[96.5,-5.7],[96.6,-7.3],[96.8,-8.5],[97.0,-9.8],[98.7,-4.9],[100.0,-5.2],[100.7,-5.3],[103.3,-4.1],
[103.3,-4.5],[101.2,-3.3],[101.8,-2.8],[102.3,-2.7],[102.8,-2.6],[100.7,-2.8],[97.5,-2.8],[98.8,-2.8],[99.3,-2.4],[93.5,-2.6],[92.8,-2.4],
[91.6,-3.7],[90.5,-3.3],[90.3,-3.7],[90.8,-2.1],[92.3,-2.1],[94.8,-2.9],[95.3,-3.2],[95.8,-3.1],[96.8,-2.1],[100.8,-1.6],[102.3,-2.1],
[78.3,-2.2],[79.0,-1.8],[76.0,-2.0],[77.5,-1.8],[81.5,-2.3],[82.0,-1.9],[83.5,-2.0],[84.5,-1.7],[86.0,-2.2],[87.5,-2.0],[89.5,-2.3],
[91.0,-2.7],[93.0,-1.9],[95.0,-2.2],[97.0,-1.8],[98.0,-2.0],[99.8,-1.9],[104.0,-1.6],[105.5,-1.3],[108.4,-1.7],[110.8,-1.7],[111.6,-1.2],
[121.2,-1.8],[119.0,-1.3],[117.5,-1.0],[114.5,-0.9],[80.0,-4.6],[81.0,-4.4],[79.5,-5.5],[80.5,-6.2],[83.5,-4.4],[86.0,-4.0]
];
const movBand = [
[69.0,0.5],[70.4,0.55],[71.2,0.6],[72.0,0.7],[72.8,0.5],[73.6,0.65],[74.4,0.6],[75.2,0.7],[76.0,0.55],[76.8,0.65],[77.6,0.6],[78.4,0.7],
[79.2,0.55],[80.0,0.65],[80.8,0.6],[81.6,0.7],[82.4,0.55],[83.2,0.65],[84.0,0.6],[84.8,0.7],[85.6,0.55],[86.4,0.65],[87.2,0.6],[88.0,0.7],
[104.0,0.55],[104.8,0.5],[105.6,0.6],[106.4,0.5],
[107.2,0.55],[108.0,0.45],[108.8,0.5],[109.6,0.4],[110.4,0.45],[111.2,0.35],[112.0,0.4],[112.8,0.35],[113.6,0.4],[114.4,0.3],[115.2,0.45],
[116.0,0.35],[116.8,0.4],[117.6,0.5],[118.4,0.4],[119.2,0.55],[120.0,0.45],[120.8,0.5],[121.6,0.4],[122.4,0.5],[123.2,0.35],[124.0,0.4],
[124.8,0.3],[125.6,0.35],[126.4,0.3],
[69.0,-0.5],[106.4,-0.5],[107.2,-0.55],[108.0,-0.45],[108.8,-0.5],[109.6,-0.4],[110.4,-0.45],[111.2,-0.35],
[112.0,-0.4],[112.8,-0.35],[113.6,-0.4],[114.4,-0.5],[115.2,-0.45],[116.0,-0.55],[116.8,-0.4],[117.6,-0.5],[118.4,-0.6],[119.2,-0.7],
[120.0,-0.55],[120.8,-0.6],[121.6,-0.45],[122.4,-0.5],[123.2,-0.35],[124.0,-0.4],[124.8,-0.3],[125.6,-0.35],[126.4,-0.5],
[73.0,1.1],[74.0,1.2],[75.0,1.0],[76.0,1.3],[77.0,1.1],[78.0,1.2],[79.0,1.0],[80.0,1.3],[81.0,1.1],[82.0,1.2],[83.0,1.0],[84.0,1.3],
[85.0,1.1],[86.0,1.2],[87.0,1.0],[88.0,1.2],[88.7,1.1],[89.4,1.3],[90.1,1.2],[90.8,1.0],[91.5,1.3],[92.2,1.1],[92.9,1.2],[93.6,1.0],
[94.3,1.3],[95.0,1.1],[95.7,1.2],[96.4,1.0],[97.1,1.3],[97.8,1.1],[98.5,1.2],[99.2,1.0],[100.0,1.1],[101.0,1.0],[102.0,1.2],[103.0,1.0],
[104.0,0.9],[105.0,1.0],[106.0,0.8],[107.0,1.0],[108.0,0.9],[109.0,0.8],[110.0,0.9],[118.8,1.0],[120.0,1.0],[121.0,0.9],[122.0,1.1],
[73.0,-1.1],[74.0,-1.2],[75.0,-1.0],[76.0,-1.3],[77.0,-1.1],[78.0,-1.2],[79.0,-1.0],[80.0,-1.3],[81.0,-1.1],[82.0,-1.2],[83.0,-1.0],
[84.0,-1.3],[85.0,-1.1],[86.0,-1.2],[87.0,-1.0],[88.0,-1.2],[88.7,-1.1],[89.4,-1.3],[90.1,-1.2],[90.8,-1.0],[91.5,-1.3],[92.2,-1.1],
[92.9,-1.2],[93.6,-1.0],[94.3,-1.3],[95.0,-1.1],[95.7,-1.2],[96.4,-1.0],[97.1,-1.3],[97.8,-1.1],[98.5,-1.2],[99.2,-1.0],[100.0,-1.1],
[101.0,-1.0],[102.0,-1.2],[103.0,-1.0],[104.0,-0.9],[105.0,-1.0],[106.0,-0.8],[107.0,-1.0],[108.0,-0.9],[109.0,-0.8],[110.0,-0.9],
[118.5,-1.0],[119.5,-1.2],[120.5,-0.9],[121.5,-1.1],
[89.0,1.7],[90.0,1.8],[91.0,1.6],[92.0,1.9],[93.0,1.7],[94.0,1.8],[95.0,1.6],[96.0,1.7],[97.0,1.8],[98.0,1.5],[99.0,1.7],[100.0,1.6],
[80.5,1.8],[82.5,1.7],[84.5,1.9],[86.5,1.6],[102.0,1.7],[104.0,1.5],[106.0,1.5],
[89.0,-1.7],[90.0,-1.8],[91.0,-1.6],[92.0,-1.9],[93.0,-1.7],[94.0,-1.8],[95.0,-1.6],[96.0,-1.7],[97.0,-1.8],[98.0,-1.5],[99.0,-1.7],
[100.0,-1.6],[79.5,-1.7],[81.5,-1.8],[83.5,-1.6],[85.5,-1.9],[87.5,-1.6],[102.5,-1.5],[104.5,-1.4]
];

// ---------- drawing ----------
const NS = 'http://www.w3.org/2000/svg';
const BLUE = '#0072BD';
function mk(tag, attrs, parent){
  const e = document.createElementNS(NS, tag);
  for (const k in attrs) e.setAttribute(k, attrs[k]);
  parent.appendChild(e);
  return e;
}
function zipRows(xs, rows){
  const out = [];
  rows.forEach(r => { const n = Math.min(xs.length, r.length); for (let i = 0; i < n; i++) out.push([xs[i], r[i]]); });
  return out;
}
function drawPanel(g, cfg){
  const sx = v => cfg.x0 + (v - cfg.xmin) / (cfg.xmax - cfg.xmin) * (cfg.x1 - cfg.x0);
  const sy = v => cfg.y1 - (v - cfg.ymin) / (cfg.ymax - cfg.ymin) * (cfg.y1 - cfg.y0);
  const pg = mk('g', {fill:'none', stroke:BLUE, 'stroke-width':3}, g);
  
  
  cfg.series.forEach(arr => arr.forEach(p => {
    const c = mk('circle', {cx:sx(p[0]).toFixed(1), cy:sy(p[1]).toFixed(1), r:12.5}, pg);
    
    
  }));
  const lx0 = sx(cfg.lineX[0]), lx1 = sx(cfg.lineX[1]);
  const up = mk('line', {x1:lx0, x2:lx1, y1:sy(cfg.limits[0]), y2:sy(cfg.limits[0]), stroke:'#FF0000', 'stroke-width':9, 'stroke-dasharray':'9 9'}, g);
  
  
  const md = mk('line', {x1:lx0, x2:sx(cfg.lineX[2]), y1:sy(cfg.limits[1]), y2:sy(cfg.limits[1]), stroke:'#000', 'stroke-width':10, 'stroke-dasharray':'33 29'}, g);
  
  
  const lo = mk('line', {x1:lx0, x2:lx1, y1:sy(cfg.limits[2]), y2:sy(cfg.limits[2]), stroke:'#FF0000', 'stroke-width':9, 'stroke-dasharray':'9 9'}, g);
  
  
  const ax = mk('path', {d:`M${cfg.x0},${cfg.y0} V${cfg.y1} H${cfg.x1}`, fill:'none', stroke:'#262626', 'stroke-width':3.5}, g);
  
  
  const ts = {stroke:'#262626', 'stroke-width':2.2, 'paint-order':'stroke'};
  cfg.yticks.forEach(t => {
    const y = sy(t);
    const tk = mk('line', {x1:cfg.x0, x2:cfg.x0+21, y1:y, y2:y, stroke:'#262626', 'stroke-width':3.5}, g);
    
    
    const tl = mk('text', Object.assign({x:cfg.x0-30, y:y+24, 'text-anchor':'end', 'font-size':68, fill:'#262626'}, ts), g);
    tl.textContent = t < 0 ? '\u2212' + Math.abs(t) : String(t);
    
    
  });
  cfg.xticks.forEach(t => {
    const x = sx(t);
    const tk = mk('line', {x1:x, x2:x, y1:cfg.y1, y2:cfg.y1-21, stroke:'#262626', 'stroke-width':3.5}, g);
    
    
    const tl = mk('text', Object.assign({x:x, y:2262, 'text-anchor':'middle', 'font-size':68, fill:'#262626'}, ts), g);
    tl.textContent = String(t);
    
    
  });
  const xl = mk('text', Object.assign({x:cfg.titleX, y:2370, 'text-anchor':'middle', 'font-size':72, fill:'#262626'}, ts), g);
  xl.textContent = 'Mean';
  
  
  const yl = mk('text', Object.assign({x:0, y:0, 'text-anchor':'middle', 'font-size':72, fill:'#262626', transform:`translate(${cfg.ylabX},1140) rotate(-90)`}, ts), g);
  yl.textContent = 'Difference';
  
  
  const tt = mk('text', {x:cfg.titleX, y:77, 'text-anchor':'middle', 'font-size':74, fill:'#000', stroke:'#000', 'stroke-width':2.2, 'paint-order':'stroke'}, g);
  tt.textContent = cfg.title;
  
  
  cfg.ann.forEach(a => {
    const t = mk('text', {x:a[1], y:a[2], 'text-anchor':a[3], 'font-size':50, fill:'#000', stroke:'#000', 'stroke-width':1.8, 'paint-order':'stroke'}, g);
    t.textContent = a[0];
    
    
  });
}

const statDense = zipRows(statDenseX, [statDenseA, statDenseB, statDenseC, statDenseD, statDenseE, statDenseF, statDenseG]);
const movDense = zipRows(movDenseX, [movDenseA, movDenseB, movDenseC, movDenseD])
  .concat(zipRows(movMidX, [movMidA, movMidB, movMidC, movMidD, movMidE, movMidF]))
  .concat(zipRows(movLeftX, [movLeftA, movLeftB]));

drawPanel(document.getElementById('left'), {
  key:'stationary', title:'Stationary', x0:211, x1:1883, y0:111, y1:2166,
  xmin:49, xmax:131, ymin:-6, ymax:25, xticks:statXTicks, yticks:statYTicks,
  limits:statLimits, lineX:[54.1,124.2,123.3], series:[statDense, statBand, statScatter, statOutliers],
  titleX:1034, ylabX:74,
  ann:[['+1.96 SD',1729,1411,'end','upper-limit-label'],['5.04',1739,1487,'end','upper-limit-value'],
       ['0.41',1763,1755,'start','mean-difference-value'],['\u22124.2',1739,2035,'end','lower-limit-value'],
       ['\u22121.96 SD',1729,2109,'end','lower-limit-label']]
});
drawPanel(document.getElementById('right'), {
  key:'movement', title:'Movement', x0:2414, x1:4086, y0:115, y1:2164,
  xmin:60, xmax:133, ymin:-15, ymax:25, xticks:movXTicks, yticks:movYTicks,
  limits:movLimits, lineX:[64,127.3,127.3], series:[movDense, movBand, movUpper, movLower],
  titleX:3238, ylabX:2230,
  ann:[['+1.96 SD',3929,778,'end','upper-limit-label'],['11.5',3939,856,'end','upper-limit-value'],
       ['1.96',3965,1309,'start','mean-difference-value'],['\u22127.5',3934,1762,'end','lower-limit-value'],
       ['\u22121.96 SD',3927,1833,'end','lower-limit-label']]
});
</script>
</body>
</html>
